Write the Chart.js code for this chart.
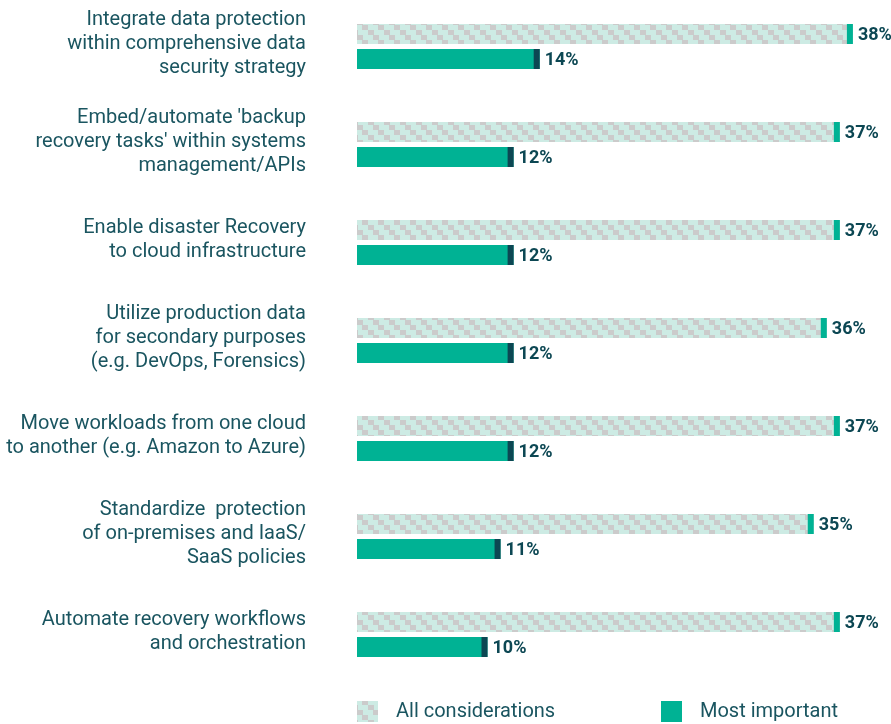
<!DOCTYPE html>
<html>
<head>
<meta charset="utf-8">
<script src="https://cdn.jsdelivr.net/npm/chart.js@4.4.1/dist/chart.umd.min.js"></script>
<style>
  html, body { margin: 0; padding: 0; background: #fff; }
  #wrap { width: 891px; height: 724px; position: relative; }
</style>
</head>
<body>
<div id="wrap"><canvas id="chart"></canvas></div>
<script>
const categories = [
  ["Integrate data protection", "within comprehensive data", "security strategy"],
  ["Embed/automate 'backup", "recovery tasks' within systems", "management/APIs"],
  ["Enable disaster Recovery", "to cloud infrastructure"],
  ["Utilize production data", "for secondary purposes", "(e.g. DevOps, Forensics)"],
  ["Move workloads from one cloud", "to another (e.g. Amazon to Azure)"],
  ["Standardize  protection", "of on-premises and IaaS/", "SaaS policies"],
  ["Automate recovery workflows", "and orchestration"]
];
const allConsiderations = [38, 37, 37, 36, 37, 35, 37];
const mostImportant = [14, 12, 12, 12, 12, 11, 10];
const seriesNames = ["All considerations", "Most important"];

const TEAL = '#00b294';
const DARK = '#0c4753';
const TEXT = '#1a5560';

function makePattern() {
  const tile = document.createElement('canvas');
  tile.width = 16;
  tile.height = 15;
  const t = tile.getContext('2d');
  t.fillStyle = '#cdebe4';
  t.fillRect(0, 0, 16, 15);
  t.fillStyle = '#cbcbcb';
  for (let r = 0; r < 3; r++) {
    t.fillRect(r * 5, r * 5, 6, 5);
  }
  return tile.getContext('2d').createPattern(tile, 'repeat');
}

// category labels, right aligned left of the bars
const labelPlugin = {
  id: 'catLabels',
  afterDraw(chart) {
    const ctx = chart.ctx;
    const y = chart.scales.y;
    ctx.save();
    ctx.fillStyle = TEXT;
    ctx.font = '20px Roboto';
    ctx.textAlign = 'right';
    ctx.textBaseline = 'middle';
    categories.forEach((lines, i) => {
      const cy = y.getPixelForValue(i) - 3;
      const top = cy - (lines.length - 1) * 24 / 2;
      lines.forEach((ln, k) => ctx.fillText(ln, 306, top + k * 24));
    });
    ctx.restore();
  }
};

// end caps + value labels
const capsPlugin = {
  id: 'caps',
  afterDatasetsDraw(chart) {
    const ctx = chart.ctx;
    const capColors = [TEAL, DARK];
    ctx.save();
    chart.data.datasets.forEach((ds, i) => {
      const meta = chart.getDatasetMeta(i);
      meta.data.forEach((bar, j) => {
        const p = bar.getProps(['x', 'y', 'height'], true);
        ctx.fillStyle = capColors[i];
        ctx.fillRect(p.x - 6, p.y - p.height / 2, 6, p.height);
        ctx.fillStyle = DARK;
        ctx.font = 'bold 18px Roboto';
        ctx.textAlign = 'left';
        ctx.textBaseline = 'middle';
        ctx.fillText(ds.data[j] + '%', p.x + 5, p.y + 1);
      });
    });
    ctx.restore();
  }
};

// legend along the bottom
const legendPlugin = {
  id: 'bottomLegend',
  afterDraw(chart) {
    const ctx = chart.ctx;
    const items = [
      { x: 357, fill: chart.data.datasets[0].backgroundColor, label: seriesNames[0] },
      { x: 661, fill: chart.data.datasets[1].backgroundColor, label: seriesNames[1] }
    ];
    ctx.save();
    items.forEach(it => {
      ctx.fillStyle = it.fill;
      ctx.fillRect(it.x, 701, 21, 21);
      ctx.fillStyle = TEXT;
      ctx.font = '20px Roboto';
      ctx.textAlign = 'left';
      ctx.textBaseline = 'middle';
      ctx.fillText(it.label, it.x + 39, 712);
    });
    ctx.restore();
  }
};

document.addEventListener('DOMContentLoaded', function() {
  const canvas = document.getElementById('chart');
  const pattern = makePattern();
  new Chart(canvas.getContext('2d'), {
    type: 'bar',
    data: {
      labels: categories.map(c => c.join(' ')),
      datasets: [
        {
          label: seriesNames[0],
          data: allConsiderations,
          backgroundColor: pattern,
          categoryPercentage: 50 / 98,
          barPercentage: 0.8,
          clip: false
        },
        {
          label: seriesNames[1],
          data: mostImportant,
          backgroundColor: TEAL,
          categoryPercentage: 50 / 98,
          barPercentage: 0.8,
          clip: false
        }
      ]
    },
    options: {
      indexAxis: 'y',
      responsive: true,
      maintainAspectRatio: false,
      animation: false,
      layout: { padding: { top: 46.5, bottom: 89.5, left: 0, right: 12 } },
      scales: {
        x: {
          display: false,
          min: 0,
          max: 40
        },
        y: {
          offset: false,
          grid: { display: false, drawTicks: false },
          border: { display: false },
          afterFit: s => { s.width = 357; },
          ticks: { display: false }
        }
      },
      plugins: {
        legend: { display: false },
        tooltip: { enabled: false }
      }
    },
    plugins: [labelPlugin, capsPlugin, legendPlugin]
  });
});
</script>
</body>
</html>
